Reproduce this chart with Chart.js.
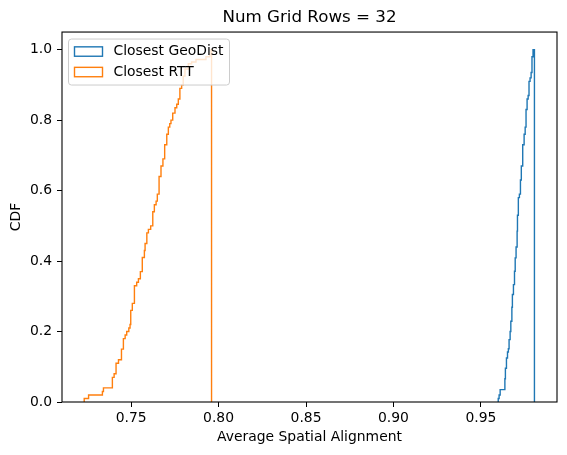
<!DOCTYPE html>
<html>
<head>
<meta charset="utf-8">
<title>Num Grid Rows = 32</title>
<script src="https://cdn.jsdelivr.net/npm/chart.js@4"></script>
<style>
    body { margin: 0; background: #fff; }
    #chart { display: block; }
</style>
</head>
<body>
<canvas id="chart" width="567" height="455"></canvas>
<script>
// Step CDF: x = bin edge where the curve rises, y = CDF after the rise
const geoX = [0.9599, 0.9599, 0.9604, 0.9610, 0.9637, 0.9640, 0.9646, 0.9652, 0.9657, 0.9661,
    0.9667, 0.9671, 0.9677, 0.9680, 0.9686, 0.9692, 0.9696, 0.9701, 0.9707, 0.9709,
    0.9714, 0.9720, 0.9726, 0.9731, 0.9739, 0.9747, 0.9753, 0.9758, 0.9764, 0.9770,
    0.9775, 0.9781, 0.9787, 0.9792, 0.9798, 0.9806, 0.9806];
const geoCdf = [0, 0.01, 0.02, 0.035, 0.066, 0.096, 0.125, 0.142, 0.151, 0.177,
    0.20, 0.229, 0.269, 0.305, 0.333, 0.371, 0.409, 0.44, 0.485, 0.53,
    0.58, 0.59, 0.63, 0.67, 0.73, 0.76, 0.78, 0.83, 0.86, 0.87,
    0.91, 0.92, 0.935, 0.98, 1.0, 1.0, 0];

const rttX = [0.7232, 0.7232, 0.7257, 0.7336, 0.7342, 0.7393, 0.7403, 0.7414, 0.7428, 0.7445,
    0.7456, 0.7466, 0.7475, 0.7487, 0.7494, 0.7498, 0.7507, 0.7519, 0.7532, 0.7542,
    0.7553, 0.7564, 0.7576, 0.7580, 0.7590, 0.7599, 0.7612, 0.7624, 0.7633, 0.7643,
    0.7650, 0.7660, 0.7671, 0.7682, 0.7692, 0.7704, 0.7713, 0.7721, 0.7728, 0.7738,
    0.7751, 0.7761, 0.7770, 0.7779, 0.7789, 0.7798, 0.7808, 0.7827, 0.7846, 0.7871,
    0.7928, 0.7950, 0.7957, 0.7960, 0.7960];
const rttCdf = [0, 0.01, 0.02, 0.03, 0.04, 0.07, 0.08, 0.11, 0.12, 0.15,
    0.18, 0.19, 0.20, 0.21, 0.22, 0.26, 0.28, 0.33, 0.34, 0.35,
    0.37, 0.41, 0.43, 0.45, 0.48, 0.49, 0.50, 0.54, 0.56, 0.57,
    0.59, 0.64, 0.67, 0.69, 0.73, 0.76, 0.78, 0.79, 0.80, 0.82,
    0.835, 0.845, 0.86, 0.89, 0.90, 0.925, 0.945, 0.96, 0.965, 0.972,
    0.98, 0.987, 1.0, 1.0, 0];

const xTicks = [0.75, 0.80, 0.85, 0.90, 0.95];
const yTicks = [0.0, 0.2, 0.4, 0.6, 0.8, 1.0];

const BLUE = '#1f77b4';
const ORANGE = '#ff7f0e';

Chart.defaults.font.family = '"DejaVu Sans", sans-serif';
Chart.defaults.font.size = 13.9;
Chart.defaults.color = '#000';

const toPoints = (xs, ys) => xs.map((x, i) => ({ x: x, y: ys[i] }));

// matplotlib-like frame and legend inside the axes
const mplDecor = {
    id: 'mplDecor',
    afterDraw(chart) {
        const { ctx, chartArea: a } = chart;
        ctx.save();
        ctx.strokeStyle = '#000';
        ctx.lineWidth = 1.1;
        ctx.strokeRect(a.left, a.top, a.right - a.left, a.bottom - a.top);

        const sets = chart.data.datasets;
        const fontPx = 13.9;
        ctx.font = fontPx + 'px "DejaVu Sans", sans-serif';
        const textW = Math.max(...sets.map(d => ctx.measureText(d.label).width));
        const bx = a.left + 6.5, by = a.top + 7;
        const textX = bx + 45;
        const bw = textX - bx + textW + 6;
        const rowH = 20.5;
        const bh = 12 + rowH * sets.length - 7;

        ctx.beginPath();
        ctx.roundRect(bx, by, bw, bh, 3);
        ctx.fillStyle = 'rgba(255,255,255,0.8)';
        ctx.fill();
        ctx.strokeStyle = '#cccccc';
        ctx.lineWidth = 1;
        ctx.stroke();

        sets.forEach((d, i) => {
            const cy = by + 12.5 + i * rowH;
            ctx.strokeStyle = d.borderColor;
            ctx.lineWidth = 1.4;
            ctx.strokeRect(bx + 6, cy - 4.7, 28, 9.4);
            ctx.fillStyle = '#000';
            ctx.textBaseline = 'middle';
            ctx.textAlign = 'left';
            ctx.fillText(d.label, textX, cy);
        });
        ctx.restore();
    }
};

new Chart(document.getElementById('chart').getContext('2d'), {
    type: 'line',
    data: {
        datasets: [
            {
                label: 'Closest GeoDist',
                data: toPoints(geoX, geoCdf),
                borderColor: BLUE,
                borderWidth: 1.4,
                stepped: true,
                pointRadius: 0,
                fill: false
            },
            {
                label: 'Closest RTT',
                data: toPoints(rttX, rttCdf),
                borderColor: ORANGE,
                borderWidth: 1.4,
                stepped: true,
                pointRadius: 0,
                fill: false
            }
        ]
    },
    options: {
        responsive: false,
        devicePixelRatio: 1,
        animation: false,
        events: [],
        layout: { padding: { left: 0, right: 10, top: 0, bottom: 0 } },
        plugins: {
            legend: { display: false },
            tooltip: { enabled: false },
            title: {
                display: true,
                text: 'Num Grid Rows = 32',
                fullSize: false,
                font: { size: 16.7, weight: 'normal' },
                padding: { top: 8, bottom: 4 }
            }
        },
        scales: {
            x: {
                type: 'linear',
                min: 0.7105,
                max: 0.9935,
                border: { display: false },
                grid: { drawOnChartArea: false, drawTicks: true, tickLength: 5, color: '#000' },
                ticks: { padding: 3.5, callback: v => v.toFixed(2) },
                afterBuildTicks: scale => { scale.ticks = xTicks.map(v => ({ value: v })); },
                afterFit: scale => { scale.height = 53; },
                title: {
                    display: true,
                    text: 'Average Spatial Alignment',
                    padding: { top: 0, bottom: 9 }
                }
            },
            y: {
                type: 'linear',
                min: 0,
                max: 1.05,
                border: { display: false },
                grid: { drawOnChartArea: false, drawTicks: true, tickLength: 5, color: '#000' },
                ticks: { padding: 5, callback: v => v.toFixed(1) },
                afterBuildTicks: scale => { scale.ticks = yTicks.map(v => ({ value: v })); },
                afterFit: scale => { scale.width = 62; },
                title: {
                    display: true,
                    text: 'CDF',
                    padding: { top: 8.3, bottom: 0 }
                }
            }
        }
    },
    plugins: [mplDecor]
});
</script>
</body>
</html>
